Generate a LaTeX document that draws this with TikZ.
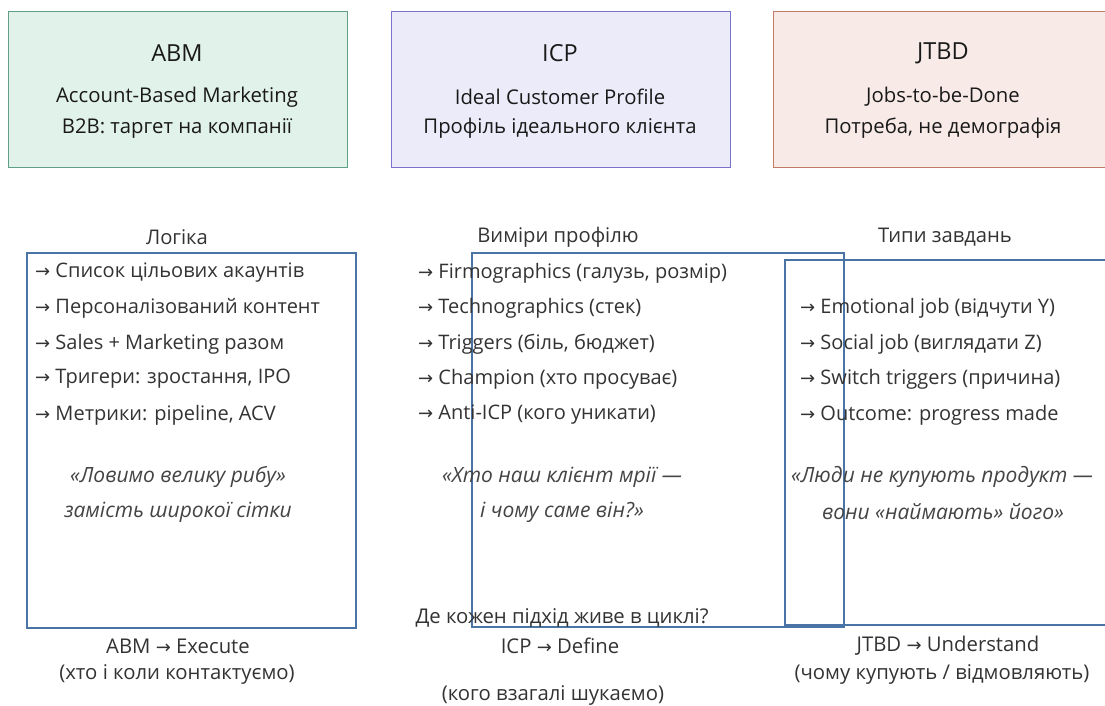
\documentclass[tikz,border=0pt]{standalone}
\usepackage{fontspec}
\setmainfont{Open Sans}
\newfontfamily\arrowfont{DejaVu Sans}
\usetikzlibrary{positioning}

\definecolor{abmfill}{HTML}{E1F2EA}
\definecolor{abmline}{HTML}{5E9F85}
\definecolor{icpfill}{HTML}{ECEBFA}
\definecolor{icpline}{HTML}{7A72CB}
\definecolor{jtbdfill}{HTML}{F8EBE7}
\definecolor{jtbdline}{HTML}{C07A66}
\definecolor{frameblue}{HTML}{4A74A6}
\definecolor{inktext}{HTML}{333333}
\definecolor{quotetext}{HTML}{444444}

\newcommand{\ra}{{\arrowfont\fontsize{18}{20}\selectfont →}}

\tikzset{
  card/.style={draw, line width=1.2pt, anchor=north west, inner sep=0pt,
    minimum width=339pt, minimum height=156pt},
  cardtitle/.style={font=\fontsize{23.5}{27}\selectfont, text=black!90},
  cardsub/.style={font=\fontsize{20.3}{24}\selectfont, text=black!90},
  colhead/.style={font=\fontsize{20.2}{24}\selectfont, text=inktext},
  item/.style={anchor=west, inner sep=0pt, font=\fontsize{20}{24}\selectfont, text=inktext},
  quoteline/.style={font=\itshape\fontsize{21}{25}\selectfont, text=quotetext},
  frame/.style={draw=frameblue, line width=2.7pt},
  footer/.style={font=\fontsize{20.3}{24}\selectfont, text=inktext}
}

\begin{document}
\begin{tikzpicture}[x=1pt, y=-1pt]
    \useasboundingbox[fill=white] (0,0) rectangle (1105,706);

    % Header cards
    \node[card, fill=abmfill, draw=abmline] (abm) at (8,11) {};
    \node[card, fill=icpfill, draw=icpline] (icp) at (391,11) {};
    \node[card, fill=jtbdfill, draw=jtbdline] (jtbd) at (773,11) {};

    \node[cardtitle] (abm-title) at (177,53) {ABM};
    \node[cardsub] (abm-sub1) at (177,97) {Account-Based Marketing};
    \node[cardsub] (abm-sub2) at (177,128) {B2B: таргет на компанії};

    \node[cardtitle] (icp-title) at (560,53) {ICP};
    \node[cardsub] (icp-sub1) at (560,97) {Ideal Customer Profile};
    \node[cardsub] (icp-sub2) at (560,128) {Профіль ідеального клієнта};

    \node[cardtitle] (jtbd-title) at (943,53) {JTBD};
    \node[cardsub] (jtbd-sub1) at (943,97) {Jobs-to-be-Done};
    \node[cardsub] (jtbd-sub2) at (943,128) {Потреба, не демографія};

    % Column frames
    \draw[frame] (27,253) rectangle (356,628);
    \draw[frame] (472,253) rectangle (844,627);
    \draw[frame] (785,260) rectangle (1115,625);

    % Column headings
    \node[colhead] (abm-head) at (177,237) {Логіка};
    \node[colhead] (icp-head) at (558,237) {Виміри профілю};
    \node[colhead] (jtbd-head) at (945,237) {Типи завдань};

    % ABM list
    \node[item] (abm-1) at (35,273) {\ra\ Список цільових акаунтів};
    \node[item] (abm-2) at (35,308) {\ra\ Персоналізований контент};
    \node[item] (abm-3) at (35,344) {\ra\ Sales + Marketing разом};
    \node[item] (abm-4) at (35,379) {\ra\ Тригери: зростання, IPO};
    \node[item] (abm-5) at (35,415) {\ra\ Метрики: pipeline, ACV};

    % ICP list
    \node[item] (icp-1) at (418,273) {\ra\ Firmographics (галузь, розмір)};
    \node[item] (icp-2) at (418,308) {\ra\ Technographics (стек)};
    \node[item] (icp-3) at (418,344) {\ra\ Triggers (біль, бюджет)};
    \node[item] (icp-4) at (418,379) {\ra\ Champion (хто просуває)};
    \node[item] (icp-5) at (418,415) {\ra\ Anti-ICP (кого уникати)};

    % JTBD list
    \node[item] (jtbd-1) at (800,308) {\ra\ Emotional job (відчути Y)};
    \node[item] (jtbd-2) at (800,344) {\ra\ Social job (виглядати Z)};
    \node[item] (jtbd-3) at (800,379) {\ra\ Switch triggers (причина)};
    \node[item] (jtbd-4) at (800,415) {\ra\ Outcome: progress made};

    % Quotes
    \node[quoteline] (abm-q1) at (178,477) {«Ловимо велику рибу»};
    \node[quoteline] (abm-q2) at (178,512) {замість широкої сітки};
    \node[quoteline] (icp-q1) at (562,477) {«Хто наш клієнт мрії —};
    \node[quoteline] (icp-q2) at (562,512) {і чому саме він?»};
    \node[quoteline] (jtbd-q1) at (942,477) {«Люди не купують продукт —};
    \node[quoteline] (jtbd-q2) at (943,512) {вони «наймають» його»};

    % Footer
    \node[footer] (cycle) at (562,618) {Де кожен підхід живе в циклі?};
    \node[footer] (abm-stage) at (178,646) {ABM \ra\ Execute};
    \node[footer] (abm-why) at (177,674) {(хто і коли контактуємо)};
    \node[footer] (icp-stage) at (560,646) {ICP \ra\ Define};
    \node[footer] (icp-why) at (553,695) {(кого взагалі шукаємо)};
    \node[footer] (jtbd-stage) at (948,646) {JTBD \ra\ Understand};
    \node[footer] (jtbd-why) at (942,674) {(чому купують / відмовляють)};

\end{tikzpicture}
\end{document}
